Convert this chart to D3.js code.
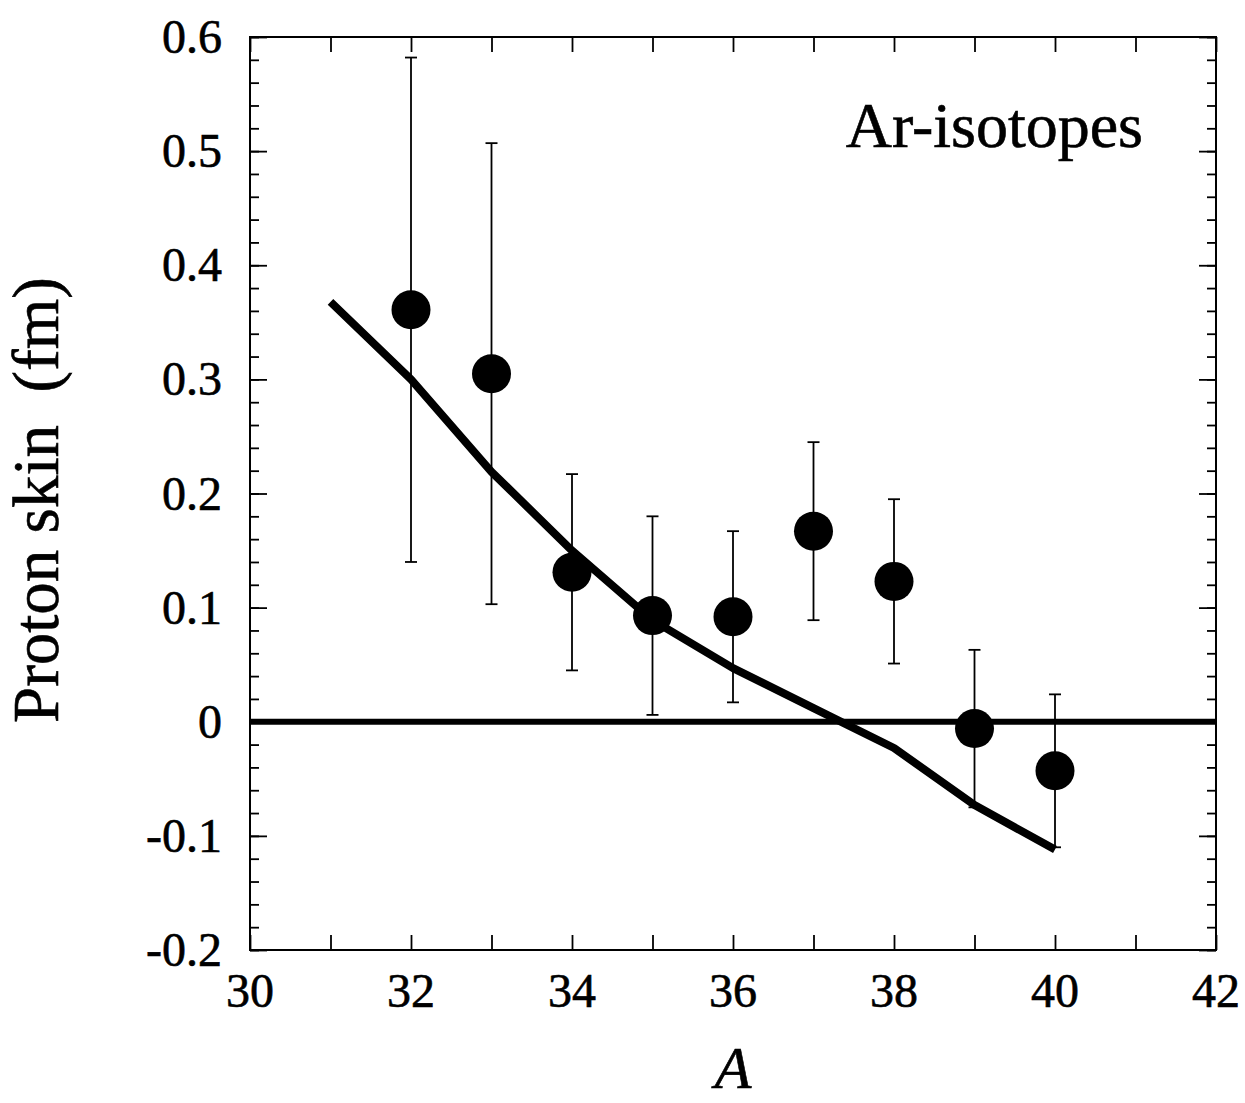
<!DOCTYPE html>
<html>
<head>
<meta charset="utf-8">
<script src="https://cdn.jsdelivr.net/npm/d3@7"></script>
<style>
  html, body { margin: 0; padding: 0; background: #fff; }
  svg { display: block; }
  text { font-family: "Liberation Serif", "Times New Roman", serif; fill: #000; stroke: #000; stroke-width: 0.6px; }
</style>
</head>
<body>
<svg id="chart" width="1245" height="1103"></svg>
<script>
// Measured proton skin of Ar isotopes (fm) with uncertainties
const massNumbers = [32, 33, 34, 35, 36, 37, 38, 39, 40];
const protonSkin  = [0.361, 0.305, 0.131, 0.093, 0.092, 0.167, 0.123, -0.006, -0.043];
const skinError   = [0.221, 0.202, 0.086, 0.087, 0.075, 0.078, 0.072, 0.069, 0.067];

// Model prediction
const modelA    = [31, 32, 33, 34, 35, 36, 37, 38, 39, 40];
const modelSkin = [0.368, 0.300, 0.219, 0.150, 0.089, 0.047, 0.012, -0.023, -0.073, -0.112];

// Axis ticks and labels
const xTickLabels = [30, 32, 34, 36, 38, 40, 42];
const yTickLabels = ["-0.2", "-0.1", "0", "0.1", "0.2", "0.3", "0.4", "0.5", "0.6"];
const xLabel = "A";
const yLabel = "Proton skin  (fm)";
const panelTitle = "Ar-isotopes";

const plotLeft = 250, plotRight = 1216, plotTop = 37, plotBottom = 950;

const x = d3.scaleLinear().domain([30, 42]).range([plotLeft, plotRight]);
const y = d3.scaleLinear().domain([-0.2, 0.6]).range([plotBottom, plotTop]);

const svg = d3.select("#chart");

// frame
svg.append("rect")
  .attr("x", plotLeft).attr("y", plotTop)
  .attr("width", plotRight - plotLeft).attr("height", plotBottom - plotTop)
  .attr("fill", "none").attr("stroke", "#000").attr("stroke-width", 2);

const xMinor = d3.range(30, 42.001, 1);
const yMinor = d3.range(-0.2, 0.6001, 0.02);
const yMajor = yTickLabels.map(Number);

function styleAxis(g) {
  g.select(".domain").remove();
  g.selectAll(".tick line").attr("stroke", "#000").attr("stroke-width", 1.8);
  g.selectAll(".tick text").remove();
}

// x ticks (inward) on bottom and top
svg.append("g").attr("transform", `translate(0,${plotBottom})`)
  .call(d3.axisBottom(x).tickValues(xMinor).tickSizeInner(-15).tickSizeOuter(0))
  .call(styleAxis);
svg.append("g").attr("transform", `translate(0,${plotTop})`)
  .call(d3.axisTop(x).tickValues(xMinor).tickSizeInner(-15).tickSizeOuter(0))
  .call(styleAxis);

// y minor ticks on left and right
svg.append("g").attr("transform", `translate(${plotLeft},0)`)
  .call(d3.axisLeft(y).tickValues(yMinor).tickSizeInner(-9).tickSizeOuter(0))
  .call(styleAxis);
svg.append("g").attr("transform", `translate(${plotRight},0)`)
  .call(d3.axisRight(y).tickValues(yMinor).tickSizeInner(-9).tickSizeOuter(0))
  .call(styleAxis);
// y major ticks
svg.append("g").attr("transform", `translate(${plotLeft},0)`)
  .call(d3.axisLeft(y).tickValues(yMajor).tickSizeInner(-17).tickSizeOuter(0))
  .call(styleAxis);
svg.append("g").attr("transform", `translate(${plotRight},0)`)
  .call(d3.axisRight(y).tickValues(yMajor).tickSizeInner(-17).tickSizeOuter(0))
  .call(styleAxis);

// tick labels
svg.append("g").selectAll("text").data(xTickLabels).join("text")
  .attr("x", d => x(d)).attr("y", 1007)
  .attr("text-anchor", "middle").attr("font-size", 48)
  .text(d => d);

svg.append("g").selectAll("text").data(yTickLabels).join("text")
  .attr("x", 222).attr("y", d => y(+d) + 16)
  .attr("text-anchor", "end").attr("font-size", 48)
  .text(d => d);

// axis titles
svg.append("text")
  .attr("x", x(36)).attr("y", 1088)
  .attr("text-anchor", "middle").attr("font-size", 60).attr("font-style", "italic")
  .text(xLabel);

svg.append("text")
  .attr("transform", `translate(58,500) rotate(-90)`)
  .attr("text-anchor", "middle").attr("font-size", 65)
  .style("white-space", "pre")
  .text(yLabel);

svg.append("text")
  .attr("x", 1143).attr("y", 147)
  .attr("text-anchor", "end").attr("font-size", 64)
  .text(panelTitle);

// zero reference line
svg.append("line")
  .attr("x1", plotLeft).attr("x2", plotRight)
  .attr("y1", y(0)).attr("y2", y(0))
  .attr("stroke", "#000").attr("stroke-width", 6);

// model curve
const line = d3.line().x((d, i) => x(modelA[i])).y(d => y(d));
svg.append("path")
  .attr("d", line(modelSkin))
  .attr("fill", "none").attr("stroke", "#000").attr("stroke-width", 8)
  .attr("stroke-linejoin", "round");

// error bars
const pts = massNumbers.map((a, i) => ({ a, v: protonSkin[i], e: skinError[i] }));
const bars = svg.append("g").attr("stroke", "#000").attr("stroke-width", 1.8);
bars.selectAll("line.v").data(pts).join("line").attr("class", "v")
  .attr("x1", d => x(d.a)).attr("x2", d => x(d.a))
  .attr("y1", d => y(d.v + d.e)).attr("y2", d => y(d.v - d.e));
bars.selectAll("line.t").data(pts).join("line").attr("class", "t")
  .attr("x1", d => x(d.a) - 6).attr("x2", d => x(d.a) + 6)
  .attr("y1", d => y(d.v + d.e)).attr("y2", d => y(d.v + d.e));
bars.selectAll("line.b").data(pts).join("line").attr("class", "b")
  .attr("x1", d => x(d.a) - 6).attr("x2", d => x(d.a) + 6)
  .attr("y1", d => y(d.v - d.e)).attr("y2", d => y(d.v - d.e));

// data points
svg.append("g").selectAll("circle").data(pts).join("circle")
  .attr("cx", d => x(d.a)).attr("cy", d => y(d.v))
  .attr("r", 19.5).attr("fill", "#000");
</script>
</body>
</html>
